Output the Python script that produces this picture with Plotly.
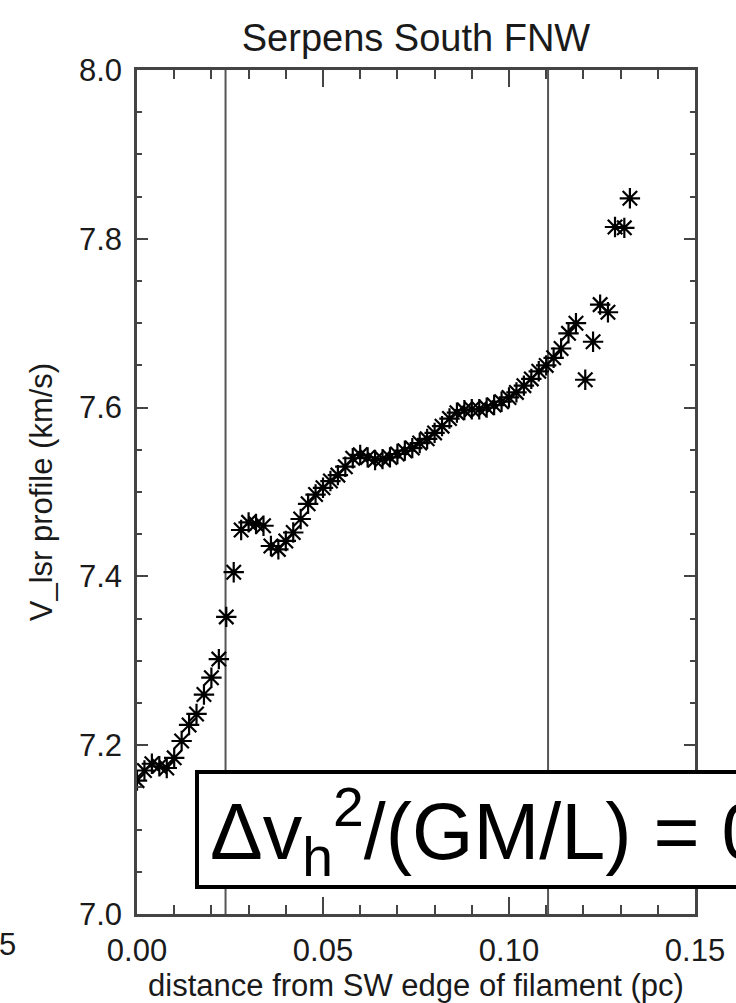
import plotly.graph_objects as go

# ---- data ----
distance_pc = [
    0.000, 0.002, 0.004, 0.006, 0.008, 0.010, 0.012, 0.014, 0.016, 0.018,
    0.020, 0.022, 0.024, 0.026, 0.028, 0.030, 0.032, 0.034, 0.036, 0.038,
    0.040, 0.042, 0.044, 0.046, 0.048, 0.050, 0.052, 0.054, 0.056, 0.058,
    0.060, 0.062, 0.064, 0.066, 0.068, 0.070, 0.072, 0.074, 0.076, 0.078,
    0.080, 0.082, 0.084, 0.086, 0.088, 0.090, 0.092, 0.094, 0.096, 0.098,
    0.100, 0.102, 0.104, 0.106, 0.108, 0.110, 0.112, 0.114, 0.116, 0.118,
    0.1205, 0.1226, 0.1245, 0.1266, 0.1285, 0.1310, 0.1325,
]
v_lsr = [
    7.158, 7.170, 7.178, 7.175, 7.173, 7.185, 7.205, 7.224, 7.237, 7.260,
    7.280, 7.302, 7.352, 7.405, 7.455, 7.464, 7.462, 7.460, 7.436, 7.432,
    7.442, 7.452, 7.468, 7.486, 7.497, 7.505, 7.513, 7.520, 7.530, 7.540,
    7.544, 7.541, 7.538, 7.539, 7.541, 7.545, 7.549, 7.552, 7.558, 7.563,
    7.570, 7.578, 7.587, 7.594, 7.597, 7.598, 7.598, 7.600, 7.603, 7.607,
    7.612, 7.618, 7.626, 7.634, 7.643, 7.650, 7.659, 7.670, 7.688, 7.700,
    7.633, 7.678, 7.722, 7.713, 7.814, 7.813, 7.848,
]
vertical_lines_pc = [0.0238, 0.1105]
x_ticks = [0.00, 0.05, 0.10, 0.15]
x_tick_labels = ["0.00", "0.05", "0.10", "0.15"]
y_ticks = [7.0, 7.2, 7.4, 7.6, 7.8, 8.0]
y_tick_labels = ["7.0", "7.2", "7.4", "7.6", "7.8", "8.0"]

title_text = "Serpens South FNW"
x_title = "distance from SW edge of filament (pc)"
y_title = "V_lsr profile (km/s)"
box_text = "Δv<sub>h</sub><sup>2</sup>/(GM/L) = 0"

FONT = "Liberation Sans, Arial, Helvetica, sans-serif"
TXT = "#1a1a1a"
AX = "#444444"

# plot-area geometry in pixels (used only to place the text box)
L, R, T, B = 137, 695, 70, 914
W, H = R - L, B - T


def px_x(p):
    return (p - L) / W


def px_y(p):
    return (B - p) / H


fig = go.Figure()
fig.add_trace(go.Scatter(
    x=distance_pc, y=v_lsr, mode="markers",
    marker=dict(symbol="asterisk-open", size=17, color="black",
                line=dict(color="black", width=2.2)),
    showlegend=False, hoverinfo="x+y",
))

for xv in vertical_lines_pc:
    fig.add_shape(type="line", xref="x", yref="paper", x0=xv, x1=xv, y0=0, y1=1,
                  line=dict(color="#555555", width=2), layer="below")

axis_common = dict(
    showgrid=False, zeroline=False, showline=True, linecolor=AX, linewidth=2.5,
    mirror="ticks", ticks="inside", tickcolor=AX, tickwidth=2, automargin=False,
    tickfont=dict(family=FONT, size=31, color=TXT),
)

fig.update_xaxes(
    range=[0, 0.15], tickvals=x_ticks, ticktext=x_tick_labels, ticklen=17,
    minor=dict(dtick=0.01, ticks="inside", ticklen=9, tickcolor=AX, tickwidth=2),
    ticklabelstandoff=7,
    title=dict(text=x_title, font=dict(family=FONT, size=31, color=TXT), standoff=12),
    **axis_common,
)
fig.update_yaxes(
    range=[7.0, 8.0], tickvals=y_ticks, ticktext=y_tick_labels, ticklen=11,
    minor=dict(dtick=0.05, ticks="inside", ticklen=5, tickcolor=AX, tickwidth=2),
    ticklabelstandoff=6,
    title=dict(text=y_title, font=dict(family=FONT, size=31, color=TXT), standoff=18),
    **axis_common,
)

# white text box with thick black frame (runs off the right edge, as in the source)
fig.add_shape(type="rect", xref="paper", yref="paper",
              x0=px_x(197), x1=px_x(800), y0=px_y(887), y1=px_y(772),
              fillcolor="white", line=dict(color="black", width=4), layer="above")
fig.add_annotation(
    xref="paper", yref="paper", x=px_x(210), y=px_y(776),
    xanchor="left", yanchor="top", text=box_text, showarrow=False,
    font=dict(family=FONT, size=79, color="black"), align="left",
    borderpad=0, borderwidth=0,
)
# fragment of a neighbouring panel's tick label at the left edge
fig.add_annotation(
    xref="paper", yref="paper", x=px_x(18), y=px_y(945),
    xanchor="right", yanchor="middle", text="5", showarrow=False,
    font=dict(family=FONT, size=31, color=TXT),
)

fig.update_layout(
    width=736, height=1003,
    margin=dict(l=L, r=736 - R, t=T, b=1003 - B),
    paper_bgcolor="white", plot_bgcolor="white",
    title=dict(text=title_text, x=416 / 736, xanchor="center", y=1 - 38 / 1003,
               yanchor="middle", font=dict(family=FONT, size=38, color=TXT)),
)

fig.write_html("out.html")
